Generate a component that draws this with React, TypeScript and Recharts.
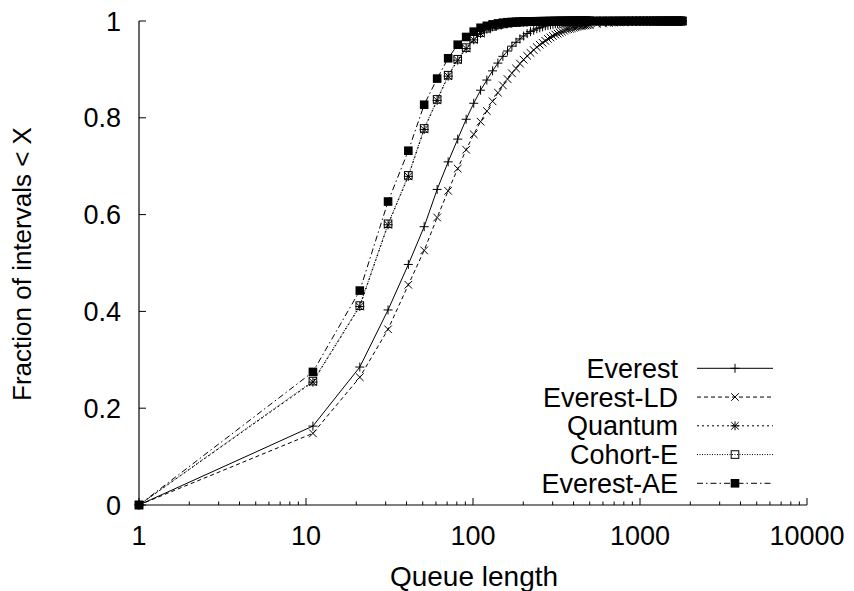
import { Line, LineChart, XAxis, YAxis } from "recharts";

// queue length (x) sampled every 10 up to 501, then every 50
const queueLengths = [
  1, 11, 21, 31, 41, 51, 61, 71, 81, 91,
  101, 111, 121, 131, 141, 151, 161, 171, 181, 191,
  201, 211, 221, 231, 241, 251, 261, 271, 281, 291,
  301, 311, 321, 331, 341, 351, 361, 371, 381, 391,
  401, 411, 421, 431, 441, 451, 461, 471, 481, 491,
  501, 551, 601, 651, 701, 751, 801, 851, 901, 951,
  1001, 1051, 1101, 1151, 1201, 1251, 1301, 1351, 1401, 1451,
  1501, 1551, 1601, 1651, 1701, 1751, 1791,
];

const everest = [
  0, 0.163, 0.285, 0.403, 0.497, 0.575, 0.652, 0.709, 0.756, 0.797,
  0.83, 0.857, 0.878, 0.897, 0.913, 0.927, 0.938, 0.948, 0.956, 0.963,
  0.969, 0.974, 0.978, 0.981, 0.984, 0.986, 0.988, 0.99, 0.991, 0.992,
  0.993, 0.994, 0.9945, 0.995, 0.9955, 0.996, 0.9965, 0.997, 0.9973, 0.9976,
  0.9978, 0.998, 0.9982, 0.9984, 0.9985, 0.9986, 0.9987, 0.9988, 0.9989, 0.999,
  0.999, 0.9992, 0.9993, 0.9994, 0.9995, 0.9996, 0.9997, 0.9997, 0.9998, 0.9998,
  0.9999, 0.9999, 0.9999, 1, 1, 1, 1, 1, 1, 1,
  1, 1, 1, 1, 1, 1, 1,
];

const everestLd = [
  0, 0.148, 0.264, 0.363, 0.455, 0.526, 0.594, 0.649, 0.695, 0.734,
  0.766, 0.792, 0.814, 0.834, 0.852, 0.867, 0.88, 0.892, 0.902, 0.912,
  0.92, 0.928, 0.934, 0.94, 0.946, 0.951, 0.955, 0.959, 0.963, 0.966,
  0.969, 0.972, 0.974, 0.976, 0.978, 0.98, 0.982, 0.983, 0.984, 0.985,
  0.986, 0.987, 0.988, 0.989, 0.9895, 0.99, 0.9905, 0.991, 0.9915, 0.992,
  0.9925, 0.994, 0.995, 0.996, 0.9965, 0.997, 0.9975, 0.998, 0.9983, 0.9985,
  0.9987, 0.9989, 0.999, 0.9991, 0.9992, 0.9993, 0.9994, 0.9995, 0.9996, 0.9997,
  0.9997, 0.9998, 0.9998, 0.9999, 0.9999, 1, 1,
];

const quantum = [
  0, 0.254, 0.41, 0.579, 0.679, 0.776, 0.836, 0.886, 0.919, 0.943,
  0.961, 0.974, 0.983, 0.988, 0.991, 0.993, 0.995, 0.996, 0.997, 0.9975,
  0.998, 0.9983, 0.9985, 0.9987, 0.9989, 0.999, 0.9991, 0.9992, 0.9993, 0.9994,
  0.9994, 0.9995, 0.9995, 0.9996, 0.9996, 0.9997, 0.9997, 0.9997, 0.9998, 0.9998,
  0.9998, 0.9998, 0.9999, 0.9999, 0.9999, 0.9999, 0.9999, 1, 1, 1,
  1, 1, 1, 1, 1, 1, 1, 1, 1, 1,
  1, 1, 1, 1, 1, 1, 1, 1, 1, 1,
  1, 1, 1, 1, 1, 1, 1,
];

const cohortE = [
  0, 0.256, 0.412, 0.581, 0.681, 0.778, 0.838, 0.888, 0.921, 0.945,
  0.963, 0.976, 0.985, 0.989, 0.992, 0.994, 0.9955, 0.9965, 0.997, 0.9978,
  0.998, 0.9984, 0.9986, 0.9988, 0.999, 0.9991, 0.9992, 0.9993, 0.9994, 0.9995,
  0.9995, 0.9996, 0.9996, 0.9997, 0.9997, 0.9997, 0.9998, 0.9998, 0.9998, 0.9999,
  0.9999, 0.9999, 0.9999, 0.9999, 1, 1, 1, 1, 1, 1,
  1, 1, 1, 1, 1, 1, 1, 1, 1, 1,
  1, 1, 1, 1, 1, 1, 1, 1, 1, 1,
  1, 1, 1, 1, 1, 1, 1,
];

const everestAe = [
  0, 0.275, 0.443, 0.627, 0.732, 0.827, 0.881, 0.923, 0.951, 0.967,
  0.978, 0.986, 0.99, 0.993, 0.995, 0.9965, 0.9975, 0.998, 0.9985, 0.9988,
  0.999, 0.9992, 0.9993, 0.9994, 0.9995, 0.9996, 0.9997, 0.9997, 0.9998, 0.9998,
  0.9998, 0.9999, 0.9999, 0.9999, 1, 1, 1, 1, 1, 1,
  1, 1, 1, 1, 1, 1, 1, 1, 1, 1,
  1, 1, 1, 1, 1, 1, 1, 1, 1, 1,
  1, 1, 1, 1, 1, 1, 1, 1, 1, 1,
  1, 1, 1, 1, 1, 1, 1,
];

const xTicks = [
  1, 2, 3, 4, 5, 6, 7, 8, 9,
  10, 20, 30, 40, 50, 60, 70, 80, 90,
  100, 200, 300, 400, 500, 600, 700, 800, 900,
  1000, 2000, 3000, 4000, 5000, 6000, 7000, 8000, 9000,
  10000,
];
const xLabelTicks = [1, 10, 100, 1000, 10000];
const yTicks = [0, 0.2, 0.4, 0.6, 0.8, 1];

const FONT = '"Liberation Sans", Arial, Helvetica, sans-serif';
const FONT_SIZE = 27;

type MarkerKind = "plus" | "cross" | "star" | "box" | "filledBox";

type SeriesDef = {
  key: string;
  name: string;
  values: number[];
  dash?: string;
  marker: MarkerKind;
};

const series: SeriesDef[] = [
  { key: "everest", name: "Everest", values: everest, marker: "plus" },
  { key: "everestLd", name: "Everest-LD", values: everestLd, dash: "4 3", marker: "cross" },
  { key: "quantum", name: "Quantum", values: quantum, dash: "2 3", marker: "star" },
  { key: "cohortE", name: "Cohort-E", values: cohortE, dash: "1 1.5", marker: "box" },
  { key: "everestAe", name: "Everest-AE", values: everestAe, dash: "6 3 1.5 3", marker: "filledBox" },
];

const chartData = queueLengths.map((x, i) => {
  const row: Record<string, number> = { x };
  series.forEach((s) => {
    row[s.key] = s.values[i];
  });
  return row;
});

function Marker({ kind, cx, cy }: { kind: MarkerKind; cx?: number; cy?: number }) {
  if (cx == null || cy == null) return null;
  const p = 4.5;
  const c = 3.8;
  const plus = `M${cx - p},${cy}H${cx + p}M${cx},${cy - p}V${cy + p}`;
  const cross = `M${cx - c},${cy - c}L${cx + c},${cy + c}M${cx - c},${cy + c}L${cx + c},${cy - c}`;
  switch (kind) {
    case "plus":
      return <path d={plus} stroke="#000" strokeWidth={1} fill="none" />;
    case "cross":
      return <path d={cross} stroke="#000" strokeWidth={1} fill="none" />;
    case "star":
      return <path d={`${plus}${cross}`} stroke="#000" strokeWidth={1} fill="none" />;
    case "box":
      return <rect x={cx - 3.8} y={cy - 3.8} width={7.6} height={7.6} stroke="#000" strokeWidth={1} fill="none" />;
    default:
      return <rect x={cx - 4.3} y={cy - 4.3} width={8.6} height={8.6} fill="#000" />;
  }
}

function BottomTick(props: any) {
  const { x, y, payload } = props;
  const major = xLabelTicks.includes(payload.value);
  return (
    <g>
      <line x1={x} x2={x} y1={y} y2={y - (major ? 7 : 3.5)} stroke="#000" />
      {major && (
        <text x={x} y={y + 40} textAnchor="middle" fontFamily={FONT} fontSize={FONT_SIZE} fill="#000">
          {payload.value}
        </text>
      )}
    </g>
  );
}

function TopTick(props: any) {
  const { x, y, payload } = props;
  const major = xLabelTicks.includes(payload.value);
  return <line x1={x} x2={x} y1={y} y2={y + (major ? 7 : 3.5)} stroke="#000" />;
}

function LeftTick(props: any) {
  const { x, y, payload } = props;
  return (
    <g>
      <line x1={x} x2={x + 7} y1={y} y2={y} stroke="#000" />
      <text x={x - 18} y={y + 9.5} textAnchor="end" fontFamily={FONT} fontSize={FONT_SIZE} fill="#000">
        {payload.value}
      </text>
    </g>
  );
}

function RightTick(props: any) {
  const { x, y } = props;
  return <line x1={x} x2={x - 7} y1={y} y2={y} stroke="#000" />;
}

function LegendBlock() {
  return (
    <g>
      {series.map((s, i) => {
        const y = 368.3 + i * 28.75;
        return (
          <g key={s.key}>
            <text x={678} y={y + 9.5} textAnchor="end" fontFamily={FONT} fontSize={FONT_SIZE} fill="#000">
              {s.name}
            </text>
            <line x1={697} x2={773} y1={y} y2={y} stroke="#000" strokeWidth={1} strokeDasharray={s.dash} />
            <Marker kind={s.marker} cx={735} cy={y} />
          </g>
        );
      })}
    </g>
  );
}

export default function App() {
  return (
    <div style={{ position: "absolute", left: 0, top: 0, width: 854, height: 591, background: "#fff" }}>
      <LineChart width={854} height={591} data={chartData} margin={{ top: 21, right: 47, bottom: 0, left: 0 }}>
        <XAxis
          xAxisId="x"
          dataKey="x"
          type="number"
          scale="log"
          domain={[1, 10000]}
          ticks={xTicks}
          interval={0}
          height={86}
          tickSize={0}
          tickMargin={0}
          tickLine={false}
          tick={<BottomTick />}
          axisLine={{ stroke: "#000", strokeWidth: 1.2 }}
        />
        <XAxis
          xAxisId="top"
          orientation="top"
          dataKey="x"
          type="number"
          scale="log"
          domain={[1, 10000]}
          ticks={xTicks}
          interval={0}
          height={0}
          tickSize={0}
          tickMargin={0}
          tickLine={false}
          tick={<TopTick />}
          axisLine={{ stroke: "#000", strokeWidth: 1.2 }}
        />
        <YAxis
          yAxisId="y"
          type="number"
          domain={[0, 1]}
          ticks={yTicks}
          interval={0}
          width={139}
          tickSize={0}
          tickMargin={0}
          tickLine={false}
          tick={<LeftTick />}
          axisLine={{ stroke: "#000", strokeWidth: 1.2 }}
        />
        <YAxis
          yAxisId="r"
          orientation="right"
          type="number"
          domain={[0, 1]}
          ticks={yTicks}
          interval={0}
          width={0}
          tickSize={0}
          tickMargin={0}
          tickLine={false}
          tick={<RightTick />}
          axisLine={{ stroke: "#000", strokeWidth: 1.2 }}
        />
        {series.map((s) => (
          <Line
            key={s.key}
            xAxisId="x"
            yAxisId="y"
            dataKey={s.key}
            name={s.name}
            type="linear"
            stroke="#000"
            strokeWidth={1}
            strokeDasharray={s.dash}
            isAnimationActive={false}
            activeDot={false}
            dot={(p: any) => <Marker key={`${s.key}-${p.index}`} kind={s.marker} cx={p.cx} cy={p.cy} />}
          />
        ))}
        <LegendBlock />
        <text x={474} y={586} textAnchor="middle" fontFamily={FONT} fontSize={28} fill="#000">
          Queue length
        </text>
        <text
          x={31}
          y={264}
          transform="rotate(-90, 31, 264)"
          textAnchor="middle"
          fontFamily={FONT}
          fontSize={26}
          fill="#000"
        >
          Fraction of intervals &lt; X
        </text>
      </LineChart>
    </div>
  );
}
